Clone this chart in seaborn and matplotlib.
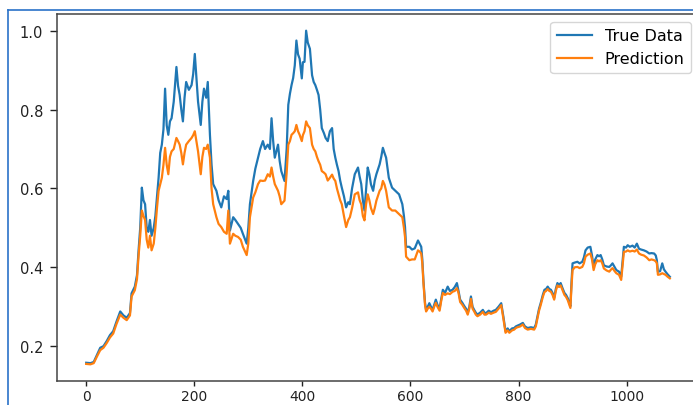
import matplotlib
matplotlib.use('Agg')
import matplotlib.pyplot as plt
import seaborn as sns
import pandas as pd
from matplotlib.lines import Line2D

# Values (scaled price, index = day)
day = [0, 8, 14, 20, 26, 32, 38, 44, 50, 56, 63, 69, 75, 81, 84, 90, 94, 97, 100,
       103, 106, 109, 112, 115, 118, 121, 125, 128, 131, 134, 137, 140, 143, 146, 149,
       152, 155, 158, 162, 167, 170, 173, 176, 179, 182, 185, 190, 195, 198, 201, 204,
       207, 212, 215, 218, 222, 225, 229, 232, 235, 241, 245, 250, 255, 260, 263, 266,
       272, 276, 281, 286, 290, 297, 300, 303, 309, 313, 318, 322, 327, 331, 336, 340,
       343, 346, 349, 355, 358, 361, 367, 371, 374, 377, 380, 383, 386, 389, 392, 395,
       399, 401, 404, 407, 410, 414, 418, 421, 424, 427, 430, 433, 436, 440, 443, 447,
       451, 455, 458, 461, 464, 467, 470, 473, 477, 481, 485, 488, 492, 497, 503, 506,
       509, 512, 515, 518, 521, 524, 527, 531, 534, 537, 543, 546, 549, 552, 555, 560,
       566, 572, 579, 585, 588, 590, 592, 598, 603, 608, 614, 617, 620, 622, 624, 627,
       629, 632, 635, 638, 641, 644, 647, 650, 654, 657, 660, 664, 669, 673, 678, 682,
       686, 689, 692, 696, 700, 703, 706, 709, 712, 715, 718, 721, 724, 729, 734, 737,
       740, 745, 749, 754, 758, 763, 768, 772, 776, 780, 783, 788, 792, 795, 798, 803,
       808, 812, 817, 823, 829, 832, 835, 838, 841, 845, 848, 851, 854, 857, 860, 863,
       866, 869, 872, 875, 878, 882, 885, 888, 891, 894, 896, 898, 900, 904, 909, 913,
       918, 921, 924, 928, 933, 936, 939, 942, 946, 949, 952, 955, 958, 963, 968, 971,
       974, 978, 981, 986, 990, 993, 995, 999, 1002, 1006, 1011, 1015, 1019, 1023, 1027,
       1032, 1037, 1042, 1046, 1051, 1054, 1056, 1058, 1062, 1066, 1069, 1072, 1076, 1080]

true_data = [0.158, 0.157, 0.16, 0.178, 0.196, 0.2, 0.213, 0.228, 0.238, 0.262, 0.288,
             0.278, 0.272, 0.284, 0.334, 0.351, 0.38, 0.444, 0.5, 0.602, 0.57, 0.56, 0.5,
             0.49, 0.52, 0.48, 0.5, 0.53, 0.58, 0.627, 0.69, 0.711, 0.75, 0.853, 0.76,
             0.736, 0.77, 0.778, 0.82, 0.908, 0.86, 0.837, 0.8, 0.77, 0.83, 0.87, 0.85,
             0.862, 0.89, 0.941, 0.88, 0.82, 0.761, 0.82, 0.853, 0.83, 0.87, 0.736, 0.66,
             0.611, 0.594, 0.57, 0.552, 0.58, 0.573, 0.594, 0.493, 0.527, 0.52, 0.51, 0.5,
             0.485, 0.46, 0.5, 0.56, 0.619, 0.65, 0.678, 0.7, 0.72, 0.7, 0.711, 0.7, 0.778,
             0.72, 0.678, 0.711, 0.67, 0.644, 0.619, 0.7, 0.812, 0.84, 0.862, 0.88, 0.912,
             0.975, 0.94, 0.929, 0.879, 0.92, 0.921, 1.0, 0.97, 0.954, 0.887, 0.87, 0.862,
             0.85, 0.837, 0.8, 0.753, 0.74, 0.728, 0.72, 0.745, 0.753, 0.7, 0.678, 0.66,
             0.644, 0.62, 0.602, 0.58, 0.552, 0.565, 0.56, 0.6, 0.636, 0.653, 0.63, 0.611,
             0.57, 0.544, 0.6, 0.653, 0.636, 0.61, 0.594, 0.62, 0.636, 0.661, 0.68, 0.703,
             0.69, 0.678, 0.627, 0.602, 0.594, 0.585, 0.56, 0.53, 0.502, 0.452, 0.452,
             0.445, 0.448, 0.468, 0.46, 0.452, 0.42, 0.368, 0.31, 0.292, 0.3, 0.309, 0.3,
             0.292, 0.305, 0.318, 0.305, 0.296, 0.32, 0.343, 0.335, 0.351, 0.34, 0.343,
             0.35, 0.36, 0.34, 0.318, 0.31, 0.301, 0.295, 0.284, 0.3, 0.326, 0.3, 0.292,
             0.285, 0.28, 0.285, 0.292, 0.285, 0.284, 0.29, 0.286, 0.29, 0.292, 0.3, 0.309,
             0.275, 0.238, 0.245, 0.238, 0.245, 0.246, 0.25, 0.252, 0.255, 0.259, 0.25,
             0.246, 0.248, 0.246, 0.255, 0.275, 0.295, 0.309, 0.33, 0.343, 0.345, 0.351,
             0.345, 0.343, 0.335, 0.322, 0.345, 0.36, 0.355, 0.36, 0.345, 0.335, 0.33,
             0.322, 0.31, 0.301, 0.36, 0.41, 0.412, 0.414, 0.41, 0.414, 0.425, 0.443, 0.45,
             0.452, 0.43, 0.401, 0.42, 0.431, 0.428, 0.431, 0.42, 0.405, 0.402, 0.401,
             0.405, 0.41, 0.4, 0.393, 0.389, 0.376, 0.42, 0.452, 0.45, 0.456, 0.452, 0.455,
             0.45, 0.46, 0.447, 0.445, 0.443, 0.44, 0.435, 0.436, 0.435, 0.43, 0.418, 0.389,
             0.39, 0.41, 0.395, 0.389, 0.382, 0.376]

prediction = [0.155, 0.154, 0.157, 0.174, 0.19, 0.196, 0.208, 0.222, 0.232, 0.256, 0.28,
              0.272, 0.266, 0.278, 0.326, 0.342, 0.37, 0.43, 0.48, 0.544, 0.53, 0.52, 0.47,
              0.45, 0.48, 0.443, 0.46, 0.5, 0.55, 0.594, 0.61, 0.627, 0.66, 0.703, 0.66,
              0.636, 0.68, 0.694, 0.7, 0.728, 0.72, 0.711, 0.69, 0.661, 0.69, 0.711, 0.72,
              0.728, 0.735, 0.745, 0.72, 0.694, 0.636, 0.68, 0.703, 0.7, 0.711, 0.678, 0.6,
              0.56, 0.527, 0.51, 0.502, 0.49, 0.485, 0.544, 0.46, 0.485, 0.48, 0.477, 0.47,
              0.452, 0.431, 0.46, 0.527, 0.577, 0.59, 0.611, 0.62, 0.619, 0.62, 0.636, 0.63,
              0.653, 0.63, 0.611, 0.594, 0.58, 0.56, 0.569, 0.64, 0.711, 0.72, 0.736, 0.74,
              0.745, 0.761, 0.745, 0.736, 0.72, 0.735, 0.745, 0.77, 0.76, 0.753, 0.711, 0.7,
              0.694, 0.68, 0.669, 0.66, 0.644, 0.64, 0.636, 0.62, 0.627, 0.635, 0.625, 0.619,
              0.6, 0.585, 0.57, 0.56, 0.53, 0.502, 0.52, 0.527, 0.55, 0.585, 0.59, 0.57,
              0.56, 0.53, 0.519, 0.56, 0.585, 0.57, 0.55, 0.535, 0.55, 0.569, 0.594, 0.6,
              0.619, 0.61, 0.594, 0.552, 0.544, 0.544, 0.535, 0.527, 0.5, 0.477, 0.427,
              0.418, 0.42, 0.42, 0.443, 0.44, 0.435, 0.41, 0.362, 0.305, 0.288, 0.295, 0.3,
              0.295, 0.288, 0.3, 0.31, 0.3, 0.29, 0.315, 0.335, 0.33, 0.334, 0.332, 0.338,
              0.34, 0.347, 0.335, 0.312, 0.305, 0.296, 0.29, 0.28, 0.295, 0.32, 0.295, 0.288,
              0.28, 0.276, 0.28, 0.287, 0.28, 0.28, 0.285, 0.282, 0.285, 0.287, 0.295, 0.304,
              0.27, 0.234, 0.24, 0.234, 0.24, 0.242, 0.246, 0.248, 0.25, 0.255, 0.246, 0.242,
              0.244, 0.242, 0.25, 0.27, 0.29, 0.304, 0.325, 0.337, 0.34, 0.345, 0.34, 0.338,
              0.33, 0.318, 0.34, 0.354, 0.35, 0.354, 0.34, 0.33, 0.325, 0.317, 0.305, 0.297,
              0.35, 0.393, 0.4, 0.401, 0.398, 0.401, 0.41, 0.427, 0.432, 0.435, 0.42, 0.393,
              0.408, 0.418, 0.415, 0.418, 0.41, 0.397, 0.392, 0.389, 0.394, 0.398, 0.39,
              0.385, 0.381, 0.368, 0.41, 0.439, 0.44, 0.443, 0.44, 0.442, 0.44, 0.445, 0.435,
              0.432, 0.43, 0.425, 0.418, 0.42, 0.418, 0.415, 0.41, 0.381, 0.382, 0.385,
              0.383, 0.381, 0.376, 0.372]

df = pd.DataFrame({'day': day, 'True Data': true_data, 'Prediction': prediction})

fig = plt.figure(figsize=(6.93, 4.06), dpi=100)
# axes run slightly past the right edge, like the cropped screenshot
ax = fig.add_axes([57 / 693, 24 / 406, 642 / 693, 367 / 406])

sns.lineplot(data=df, x='day', y='True Data', ax=ax, color='#1f77b4',
             linewidth=1.6, label='True Data', estimator=None)
sns.lineplot(data=df, x='day', y='Prediction', ax=ax, color='#ff7f0e',
             linewidth=1.6, label='Prediction', estimator=None)

ax.set_xlabel('')
ax.set_ylabel('')
ax.set_xticks([0, 200, 400, 600, 800, 1000])
ax.set_yticks([0.2, 0.4, 0.6, 0.8, 1.0])
ax.tick_params(axis='both', labelsize=10, colors='#222222', width=1)
ax.tick_params(axis='y', length=5, pad=5, labelsize=10.5)
ax.tick_params(axis='x', length=3.5, pad=2)
for s in ax.spines.values():
    s.set_color('#444444')
    s.set_linewidth(1.1)

ax.legend(loc='upper right', fontsize=11.5, handlelength=2.2, borderaxespad=0.5)

# blue screenshot border
fig.add_artist(Line2D([8 / 693, 8 / 693], [0, 1 - 11 / 406], color='#2a72c8',
                      linewidth=1.2, transform=fig.transFigure))
fig.add_artist(Line2D([8 / 693, 1], [1 - 11 / 406, 1 - 11 / 406], color='#2a72c8',
                      linewidth=1.2, transform=fig.transFigure))

fig.savefig('out.png', dpi=100)
